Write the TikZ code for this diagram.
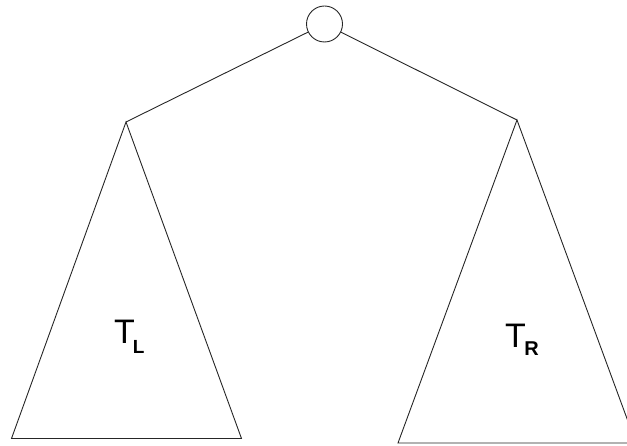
\documentclass[tikz,border=0pt]{standalone}
\usepackage{fontspec}
\setmainfont{Liberation Sans}
\begin{document}
\begin{tikzpicture}[x=1pt,y=1pt,
  edge/.style={line width=0.9pt, black!85},
  rootnode/.style={circle, draw, line width=0.9pt, black!85, minimum size=36pt, inner sep=0pt},
  label/.style={anchor=base west, inner sep=0pt, font=\fontsize{34}{34}\selectfont}]
\useasboundingbox (0,0) rectangle (627,445);
\clip (0,0) rectangle (627,445);
\node[rootnode] (root) at (324.5,421) {};
\coordinate (la) at (126,323);
\coordinate (lbl) at (11.5,6.5);
\coordinate (lbr) at (241.5,6.5);
\coordinate (ra) at (517,325);
\coordinate (rbl) at (398,2);
\coordinate (rbr) at (636,2);
\draw[edge] (root) -- (la);
\draw[edge] (root) -- (ra);
\draw[edge] (la) -- (lbl) -- (lbr) -- cycle;
\draw[edge] (ra) -- (rbl) -- (rbr) -- cycle;
\node[label] (tl) at (114,102) {T\hspace{-2pt}\raisebox{-10pt}{\fontsize{19}{19}\selectfont\bfseries L}};
\node[label] (tr) at (505,98) {T\hspace{-1.5pt}\raisebox{-8pt}{\fontsize{20}{20}\selectfont\bfseries R}};
\end{tikzpicture}
\end{document}
